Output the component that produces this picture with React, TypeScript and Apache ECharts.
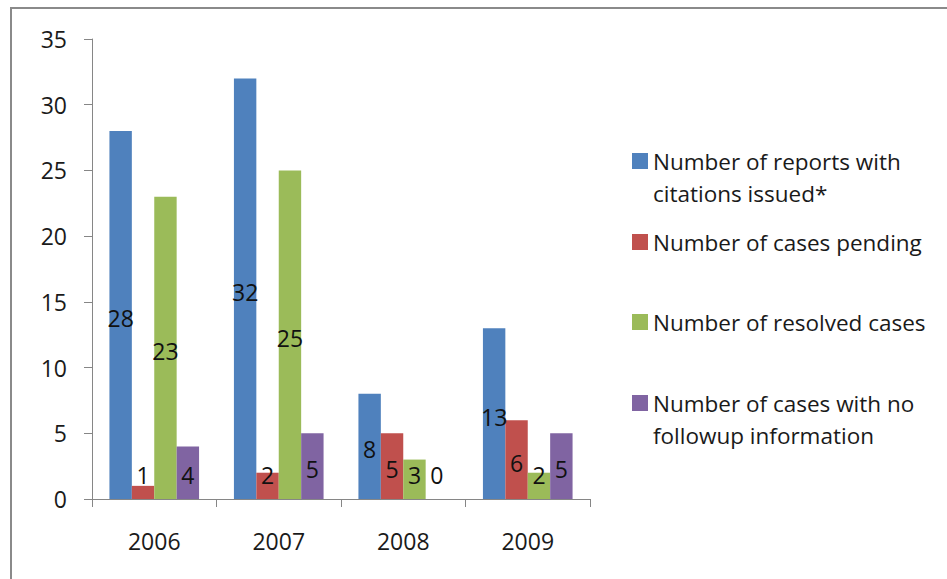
import React, { useEffect, useRef } from "react";
import * as echarts from "echarts";

const years = ["2006", "2007", "2008", "2009"];
const seriesNames = [
  "Number of reports with citations issued*",
  "Number of cases pending",
  "Number of resolved cases",
  "Number of cases with no followup information",
];
const legendLines = [
  ["Number of reports with", "citations issued*"],
  ["Number of cases pending"],
  ["Number of resolved cases"],
  ["Number of cases with no", "followup information"],
];
const citationsIssued = [28, 32, 8, 13];
const casesPending = [1, 2, 5, 6];
const resolvedCases = [23, 25, 3, 2];
const noFollowup = [4, 5, 0, 5];
const colors = ["#4F81BD", "#C0504D", "#9BBB59", "#8064A2"];
const yTicks = { min: 0, max: 35, interval: 5 };

const FONT = "'Open Sans', Lato, sans-serif";
const GRID = { left: 92, top: 39, width: 498, height: 460 };
const PX_PER_UNIT = GRID.height / (yTicks.max - yTicks.min);

function labelOffset(v: number): [number, number] {
  const half = (v * PX_PER_UNIT) / 2;
  const h = Math.max(half - 3, 24);
  return [0, half - h];
}

export default function App() {
  const ref = useRef<HTMLDivElement>(null);
  useEffect(() => {
    if (!ref.current) return;
    const chart = echarts.init(ref.current, null, { renderer: "svg" });
    const allValues = [citationsIssued, casesPending, resolvedCases, noFollowup];
    const LINE = 32;
    const iconCenters = [161, 242, 322, 403];
    chart.setOption({
      animation: false,
      backgroundColor: "#ffffff",
      textStyle: { fontFamily: FONT },
      graphic: [
        {
          type: "rect",
          shape: { x: 11, y: 8, width: 1000, height: 700 },
          style: { fill: "none", stroke: "#8a8a8a", lineWidth: 2 },
          silent: true,
        },
      ],
      grid: { ...GRID, containLabel: false },
      legend: seriesNames.map((name, i) => {
        const lines = legendLines[i];
        const text = lines.length > 1 ? ["\u00a0", ...lines].join("\n") : lines[0];
        const boxH = (lines.length > 1 ? 3 : 1) * LINE;
        return {
          left: 632,
          top: iconCenters[i] - boxH / 2,
          padding: 0,
          orient: "vertical",
          itemWidth: 16,
          itemHeight: 16,
          icon: "rect",
          selectedMode: false,
          data: [name],
          formatter: () => text,
          textStyle: {
            fontFamily: FONT,
            fontSize: 22.5,
            lineHeight: LINE,
            color: "#1a1a1a",
          },
        };
      }),
      xAxis: {
        type: "category",
        data: years,
        axisLine: { show: true, lineStyle: { color: "#868686", width: 1 } },
        axisTick: { show: true, length: 8, lineStyle: { color: "#868686" } },
        axisLabel: { margin: 30, fontSize: 23, color: "#1a1a1a", fontFamily: FONT },
      },
      yAxis: {
        type: "value",
        min: yTicks.min,
        max: yTicks.max,
        interval: yTicks.interval,
        splitLine: { show: false },
        axisLine: { show: true, lineStyle: { color: "#868686", width: 1 } },
        axisTick: { show: true, length: 8, lineStyle: { color: "#868686" } },
        axisLabel: { margin: 25, fontSize: 23, color: "#1a1a1a", fontFamily: FONT },
      },
      series: seriesNames.map((name, i) => ({
        name,
        type: "bar",
        barGap: "0%",
        barCategoryGap: "28%",
        itemStyle: { color: colors[i] },
        label: {
          show: true,
          position: "inside",
          fontSize: 23,
          fontFamily: FONT,
          color: "#111111",
        },
        data: allValues[i].map((v) => ({
          value: v,
          label: { offset: labelOffset(v) },
        })),
      })),
    });
    return () => chart.dispose();
  }, []);
  return (
    <div
      ref={ref}
      style={{ position: "fixed", left: 0, top: 0, width: 947, height: 579 }}
    />
  );
}
